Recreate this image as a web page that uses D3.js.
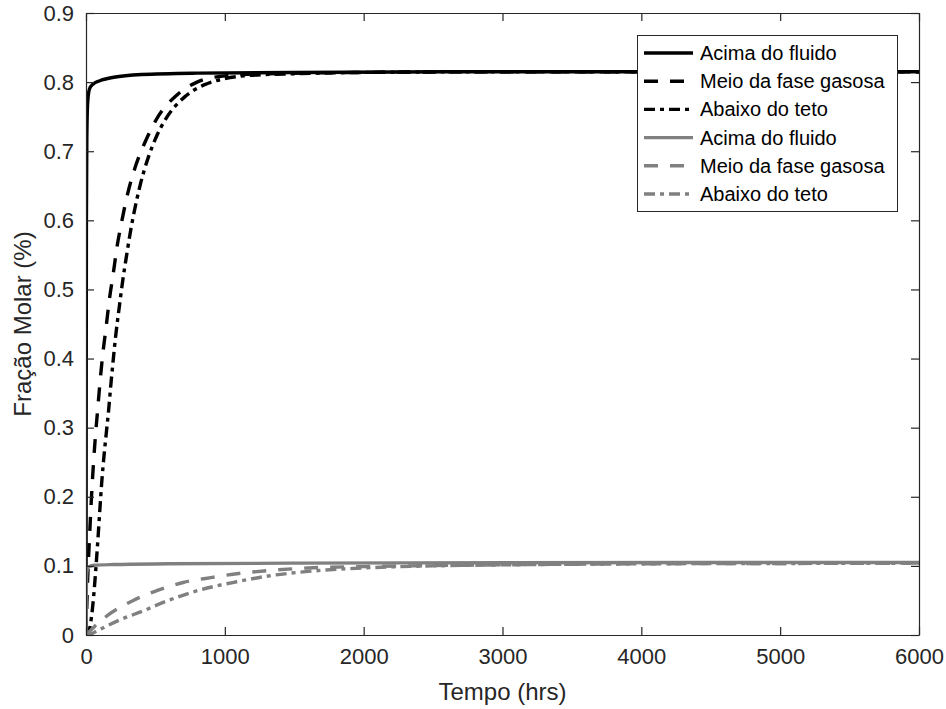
<!DOCTYPE html>
<html>
<head>
<meta charset="utf-8">
<script src="https://cdn.jsdelivr.net/npm/d3@7/dist/d3.min.js"></script>
<style>
  html, body { margin: 0; padding: 0; background: #fff; }
  svg { display: block; font-family: "Liberation Sans", Arial, Helvetica, sans-serif; }
</style>
</head>
<body>
<svg id="chart" width="946" height="709"></svg>
<script>
// Time axis (hours) and molar fraction samples for each probe location
const xTicks = [0, 1000, 2000, 3000, 4000, 5000, 6000];
const yTicks = [0, 0.1, 0.2, 0.3, 0.4, 0.5, 0.6, 0.7, 0.8, 0.9];
const yTickLabels = ["0", "0.1", "0.2", "0.3", "0.4", "0.5", "0.6", "0.7", "0.8", "0.9"];

const seriesNames = ["Acima do fluido", "Meio da fase gasosa", "Abaixo do teto",
                     "Acima do fluido", "Meio da fase gasosa", "Abaixo do teto"];

// Black group
const tBlackAcima = [0, 1.5, 3, 6, 12, 25, 50, 100, 200, 400, 800, 1500, 3000, 6000];
const vBlackAcima = [0, 0.35, 0.6, 0.72, 0.77, 0.79, 0.797, 0.802, 0.807, 0.811, 0.813, 0.814, 0.815, 0.815];

const tBlackMeio = [0, 10, 25, 45, 65, 84, 101, 120, 144, 168, 197, 223, 259, 302, 353, 425, 519, 653, 800, 1000, 1300, 2000, 3000, 6000];
const vBlackMeio = [0, 0.07, 0.14, 0.22, 0.28, 0.326, 0.366, 0.405, 0.444, 0.485, 0.524, 0.561, 0.600, 0.640, 0.676, 0.713, 0.750, 0.781, 0.800, 0.809, 0.812, 0.814, 0.815, 0.815];

const tBlackTeto = [0, 15, 29, 48, 65, 77, 89, 101, 113, 130, 145, 161, 178, 197, 215, 240, 264, 293, 317, 353, 389, 447, 509, 569, 713, 850, 1000, 1200, 1500, 2000, 3000, 6000];
const vBlackTeto = [0, 0.001, 0.012, 0.041, 0.08, 0.113, 0.148, 0.185, 0.22, 0.26, 0.29, 0.321, 0.36, 0.40, 0.435, 0.475, 0.512, 0.55, 0.58, 0.618, 0.65, 0.69, 0.722, 0.745, 0.779, 0.796, 0.805, 0.810, 0.812, 0.814, 0.815, 0.815];

// Gray group
const tGrayAcima = [0, 1.5, 3, 6, 12, 25, 60, 200, 600, 1500, 3000, 6000];
const vGrayAcima = [0, 0.045, 0.075, 0.09, 0.096, 0.099, 0.101, 0.102, 0.103, 0.104, 0.1045, 0.105];

const tGrayMeio = [0, 20, 60, 160, 340, 520, 700, 900, 1100, 1300, 1600, 2000, 2500, 3000, 4000, 5000, 6000];
const vGrayMeio = [0, 0.004, 0.012, 0.029, 0.050, 0.065, 0.076, 0.083, 0.089, 0.093, 0.097, 0.099, 0.1005, 0.1015, 0.103, 0.1035, 0.104];

const tGrayTeto = [0, 30, 80, 245, 413, 580, 750, 917, 1085, 1300, 1600, 2000, 2500, 3000, 4000, 5000, 6000];
const vGrayTeto = [0, 0.001, 0.006, 0.022, 0.035, 0.049, 0.061, 0.070, 0.077, 0.085, 0.092, 0.097, 0.1, 0.1015, 0.103, 0.1035, 0.104];

const BLACK = "#000000";
const GRAY = "#808080";
const AXIS = "#262626";
const DASH = "14,12";
const DASHDOT = "11,5,4,5";

const series = [
  { name: seriesNames[0], t: tBlackAcima, v: vBlackAcima, color: BLACK, dash: null },
  { name: seriesNames[1], t: tBlackMeio,  v: vBlackMeio,  color: BLACK, dash: DASH },
  { name: seriesNames[2], t: tBlackTeto,  v: vBlackTeto,  color: BLACK, dash: DASHDOT },
  { name: seriesNames[3], t: tGrayAcima,  v: vGrayAcima,  color: GRAY,  dash: null },
  { name: seriesNames[4], t: tGrayMeio,   v: vGrayMeio,   color: GRAY,  dash: DASH },
  { name: seriesNames[5], t: tGrayTeto,   v: vGrayTeto,   color: GRAY,  dash: DASHDOT }
];

const svg = d3.select("#chart");
svg.append("rect").attr("width", 946).attr("height", 709).attr("fill", "#fff");

const plot = { left: 86, right: 919, top: 13, bottom: 635 };
const x = d3.scaleLinear().domain([0, 6000]).range([plot.left, plot.right]);
const y = d3.scaleLinear().domain([0, 0.9]).range([plot.bottom, plot.top]);

svg.append("defs").append("clipPath").attr("id", "plotClip")
  .append("rect")
  .attr("x", plot.left).attr("y", plot.top)
  .attr("width", plot.right - plot.left).attr("height", plot.bottom - plot.top);

// Curves
const line = d3.line()
  .x(d => x(d[0]))
  .y(d => y(d[1]))
  .curve(d3.curveMonotoneX);

const curves = svg.append("g").attr("clip-path", "url(#plotClip)");
series.forEach(s => {
  const pts = s.t.map((t, i) => [t, s.v[i]]);
  curves.append("path")
    .attr("d", line(pts))
    .attr("fill", "none")
    .attr("stroke", s.color)
    .attr("stroke-width", 3.4)
    .attr("stroke-linejoin", "round")
    .attr("stroke-dasharray", s.dash);
});

// Axes (box with inward ticks on all four sides)
const tickLen = 8;
const fmtY = d => yTickLabels[yTicks.indexOf(d)];

const axBottom = d3.axisBottom(x).tickValues(xTicks).tickSizeInner(-tickLen).tickSizeOuter(0).tickPadding(13).tickFormat(d3.format("d"));
const axTop = d3.axisTop(x).tickValues(xTicks).tickSizeInner(-tickLen).tickSizeOuter(0).tickFormat("");
const axLeft = d3.axisLeft(y).tickValues(yTicks).tickSizeInner(-tickLen).tickSizeOuter(0).tickPadding(12).tickFormat(fmtY);
const axRight = d3.axisRight(y).tickValues(yTicks).tickSizeInner(-tickLen).tickSizeOuter(0).tickFormat("");

function styleAxis(g) {
  g.select(".domain").attr("stroke", AXIS).attr("stroke-width", 1.2);
  g.selectAll(".tick line").attr("stroke", AXIS).attr("stroke-width", 1.2);
  g.selectAll(".tick text").attr("fill", AXIS).style("font-size", "22px")
    .style("font-family", "'Liberation Sans', Arial, sans-serif");
}

svg.append("g").attr("transform", `translate(0,${plot.bottom})`).call(axBottom).call(styleAxis);
svg.append("g").attr("transform", `translate(0,${plot.top})`).call(axTop).call(styleAxis);
svg.append("g").attr("transform", `translate(${plot.left},0)`).call(axLeft).call(styleAxis);
svg.append("g").attr("transform", `translate(${plot.right},0)`).call(axRight).call(styleAxis);

// Axis titles
svg.append("text")
  .attr("x", (plot.left + plot.right) / 2)
  .attr("y", 700)
  .attr("text-anchor", "middle")
  .attr("fill", AXIS)
  .style("font-size", "24px")
  .text("Tempo (hrs)");

svg.append("text")
  .attr("transform", `translate(31,${(plot.top + plot.bottom) / 2}) rotate(-90)`)
  .attr("text-anchor", "middle")
  .attr("fill", AXIS)
  .style("font-size", "24px")
  .text("Fração Molar (%)");

// Legend
const legend = { x: 637, y: 35, w: 260, h: 176, rowH: 28.2, firstY: 53 };
const lg = svg.append("g");
lg.append("rect")
  .attr("x", legend.x + 0.5).attr("y", legend.y + 0.5)
  .attr("width", legend.w).attr("height", legend.h)
  .attr("fill", "#fff")
  .attr("stroke", AXIS).attr("stroke-width", 1);

series.forEach((s, i) => {
  const cy = legend.firstY + i * legend.rowH;
  lg.append("line")
    .attr("x1", 644).attr("x2", 693)
    .attr("y1", cy).attr("y2", cy)
    .attr("stroke", s.color)
    .attr("stroke-width", 3.4)
    .attr("stroke-dasharray", s.dash);
  lg.append("text")
    .attr("x", 700).attr("y", cy + 7)
    .attr("fill", "#000")
    .style("font-size", "20px")
    .text(s.name);
});
</script>
</body>
</html>
